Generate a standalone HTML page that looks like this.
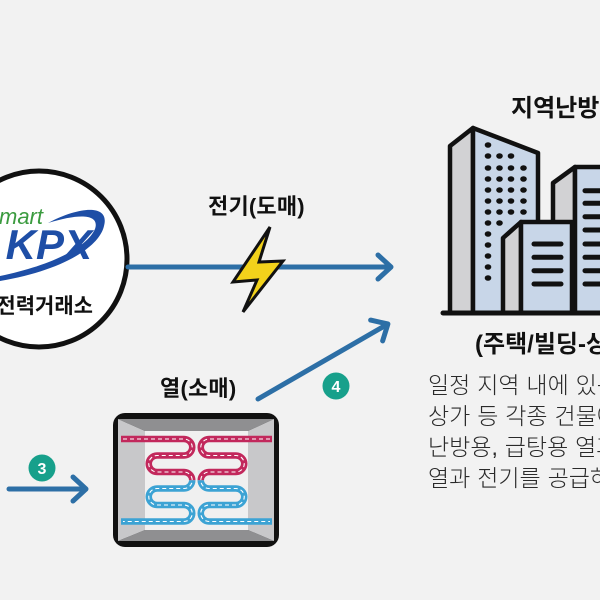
<!DOCTYPE html>
<html><head><meta charset="utf-8"><style>
html,body{margin:0;padding:0;background:#f2f2f2;}
svg{display:block;}
.ko{font-family:"Liberation Sans","Noto Sans CJK KR",sans-serif;}
</style></head><body>
<svg width="600" height="600" viewBox="0 0 600 600" xmlns="http://www.w3.org/2000/svg">
<rect width="600" height="600" fill="#f2f2f2"/>

<!-- KPX circle -->
<circle cx="39" cy="259" r="88" fill="#ffffff" stroke="#111" stroke-width="5"/>
<path d="M48,223 C80,206 110,204 104,226 C99,248 60,271 0,281 L0,276 C48,266 86,249 95,229 C100,214 80,213 48,223 Z" fill="#1e4ea6"/>
<text x="43" y="224" text-anchor="end" font-family="Liberation Sans,sans-serif" font-style="italic" font-size="22" fill="#3b9b3f">smart</text>
<text x="92" y="259" text-anchor="end" font-family="Liberation Sans,sans-serif" font-style="italic" font-weight="bold" font-size="42" fill="#1e4ea6">KPX</text>
<text class="ko" x="93" y="313" text-anchor="end" font-size="21" font-weight="bold" fill="#111">전력거래소</text>

<!-- horizontal arrow -->
<g stroke="#2d6fa6" stroke-width="5" stroke-linecap="round" stroke-linejoin="round" fill="none">
<line x1="128" y1="267" x2="390" y2="267"/>
<polyline points="378,255 391,267 378,279"/>
</g>
<text class="ko" x="208" y="214" font-size="22" font-weight="bold" letter-spacing="0.2" fill="#111">전기(도매)</text>

<!-- lightning -->
<polygon points="270,227 233,282 257,280 243,312 283,261 259,262" fill="#f2d21b" stroke="#111" stroke-width="3" stroke-linejoin="miter"/>

<!-- diagonal arrow -->
<g transform="translate(258,399) rotate(-30)" stroke="#2d6fa6" stroke-width="5" stroke-linecap="round" stroke-linejoin="round" fill="none">
<line x1="0" y1="0" x2="149" y2="0"/>
<polyline points="137,-12 150,0 137,12"/>
</g>
<circle cx="336" cy="386" r="13.5" fill="#17a08b"/>
<text x="336" y="392" text-anchor="middle" font-family="Liberation Sans,sans-serif" font-weight="bold" font-size="16" fill="#fff">4</text>

<!-- arrow 3 -->
<g stroke="#2d6fa6" stroke-width="5" stroke-linecap="round" stroke-linejoin="round" fill="none">
<line x1="9" y1="489" x2="85" y2="489"/>
<polyline points="73,477 86,489 73,501"/>
</g>
<circle cx="42" cy="468" r="13.5" fill="#17a08b"/>
<text x="42" y="474" text-anchor="middle" font-family="Liberation Sans,sans-serif" font-weight="bold" font-size="16" fill="#fff">3</text>

<text class="ko" x="160" y="396" font-size="22" font-weight="bold" letter-spacing="0.2" fill="#111">열(소매)</text>

<!-- heat exchanger -->
<rect x="113" y="413" width="166" height="134" rx="12" fill="#111"/>
<polygon points="118,419 274,419 248,431 145,431" fill="#8f8f91"/>
<polygon points="118,541 274,541 248,530 145,530" fill="#8f8f91"/>
<polygon points="118,419 145,431 145,530 118,541" fill="#c8c8ca"/>
<polygon points="274,419 248,431 248,530 274,541" fill="#c8c8ca"/>
<rect x="145" y="431" width="103" height="99" fill="#f0f0f0"/>
<g fill="none" stroke-width="6.5">
<path d="M121,439 H184 A8.25,8.25 0 0 1 184,455.5 H157 A8.25,8.25 0 0 0 157,472 H184 A8.25,8.25 0 0 1 192.25,480.25" stroke="#c2285c"/>
<path d="M192.25,480.25 A8.25,8.25 0 0 1 184,488.5 H157 A8.25,8.25 0 0 0 157,505 H184 A8.25,8.25 0 0 1 184,521.5 H121" stroke="#3ca3d4"/>
<path d="M272,439 H209 A8.25,8.25 0 0 0 209,455.5 H236 A8.25,8.25 0 0 1 236,472 H209 A8.25,8.25 0 0 0 200.75,480.25" stroke="#c2285c"/>
<path d="M200.75,480.25 A8.25,8.25 0 0 0 209,488.5 H236 A8.25,8.25 0 0 1 236,505 H209 A8.25,8.25 0 0 0 209,521.5 H272" stroke="#3ca3d4"/>
</g>
<g fill="none" stroke="#fff" stroke-width="1.1" stroke-dasharray="4 3">
<path d="M123,439 H184 A8.25,8.25 0 0 1 184,455.5 H157 A8.25,8.25 0 0 0 157,472 H184 A8.25,8.25 0 0 1 184,488.5 H157 A8.25,8.25 0 0 0 157,505 H184 A8.25,8.25 0 0 1 184,521.5 H123"/>
<path d="M270,439 H209 A8.25,8.25 0 0 0 209,455.5 H236 A8.25,8.25 0 0 1 236,472 H209 A8.25,8.25 0 0 0 209,488.5 H236 A8.25,8.25 0 0 1 236,505 H209 A8.25,8.25 0 0 0 209,521.5 H270"/>
</g>

<!-- buildings -->
<g stroke="#111" stroke-width="4.5" stroke-linejoin="round">
<polygon points="450,146 473,128 473,313 450,313" fill="#d2d2d4"/>
<polygon points="473,128 538,153 538,313 473,313" fill="#c8d6e8"/>
<polygon points="553,183 575,167 575,313 553,313" fill="#d2d2d4"/>
<polygon points="575,167 612,167 612,313 575,313" fill="#c8d6e8"/>
<polygon points="503,238 521,222 521,313 503,313" fill="#d2d2d4"/>
<polygon points="521,222 572,222 572,313 521,313" fill="#c8d6e8"/>
</g>
<g fill="#111">
<ellipse cx="488" cy="145" rx="3.3" ry="2.8"/>
<ellipse cx="488" cy="156" rx="3.3" ry="2.8"/><ellipse cx="499.5" cy="156" rx="3.3" ry="2.8"/><ellipse cx="511" cy="156" rx="3.3" ry="2.8"/>
<ellipse cx="488" cy="168" rx="3.3" ry="2.8"/><ellipse cx="499.5" cy="168" rx="3.3" ry="2.8"/><ellipse cx="511" cy="168" rx="3.3" ry="2.8"/><ellipse cx="523.5" cy="168" rx="3.3" ry="2.8"/>
<ellipse cx="488" cy="179" rx="3.3" ry="2.8"/><ellipse cx="499.5" cy="179" rx="3.3" ry="2.8"/><ellipse cx="511" cy="179" rx="3.3" ry="2.8"/><ellipse cx="523.5" cy="179" rx="3.3" ry="2.8"/>
<ellipse cx="488" cy="190" rx="3.3" ry="2.8"/><ellipse cx="499.5" cy="190" rx="3.3" ry="2.8"/><ellipse cx="511" cy="190" rx="3.3" ry="2.8"/><ellipse cx="523.5" cy="190" rx="3.3" ry="2.8"/>
<ellipse cx="488" cy="201" rx="3.3" ry="2.8"/><ellipse cx="499.5" cy="201" rx="3.3" ry="2.8"/><ellipse cx="511" cy="201" rx="3.3" ry="2.8"/><ellipse cx="523.5" cy="201" rx="3.3" ry="2.8"/>
<ellipse cx="488" cy="212" rx="3.3" ry="2.8"/><ellipse cx="499.5" cy="212" rx="3.3" ry="2.8"/><ellipse cx="511" cy="212" rx="3.3" ry="2.8"/><ellipse cx="523.5" cy="212" rx="3.3" ry="2.8"/>
<ellipse cx="488" cy="223" rx="3.3" ry="2.8"/><ellipse cx="499.5" cy="223" rx="3.3" ry="2.8"/>
<ellipse cx="488" cy="234" rx="3.3" ry="2.8"/>
<ellipse cx="488" cy="245" rx="3.3" ry="2.8"/>
<ellipse cx="488" cy="256" rx="3.3" ry="2.8"/>
<ellipse cx="488" cy="267" rx="3.3" ry="2.8"/>
<ellipse cx="488" cy="278" rx="3.3" ry="2.8"/>
</g>
<g stroke="#111" stroke-width="5" stroke-linecap="round">
<line x1="534" y1="244" x2="561" y2="244"/>
<line x1="534" y1="257.3" x2="561" y2="257.3"/>
<line x1="534" y1="270.7" x2="561" y2="270.7"/>
<line x1="534" y1="284" x2="561" y2="284"/>
<line x1="585" y1="190.7" x2="612" y2="190.7"/>
<line x1="585" y1="203.3" x2="612" y2="203.3"/>
<line x1="585" y1="216.7" x2="612" y2="216.7"/>
<line x1="585" y1="230" x2="612" y2="230"/>
<line x1="585" y1="244" x2="612" y2="244"/>
<line x1="585" y1="257.3" x2="612" y2="257.3"/>
<line x1="585" y1="270.7" x2="612" y2="270.7"/>
<line x1="585" y1="284" x2="612" y2="284"/>
<line x1="443" y1="313" x2="605" y2="313"/>
</g>

<text class="ko" x="511" y="116" font-size="24" font-weight="bold" fill="#111">지역난방공사</text>
<text class="ko" x="475" y="352" font-size="24" font-weight="bold" fill="#111">(주택/빌딩-상가)</text>
<g class="ko" font-size="23" font-weight="300" word-spacing="0.5" fill="#2a2a2a">
<text x="428" y="393">일정 지역 내에 있는</text>
<text x="428" y="424">상가 등 각종 건물에</text>
<text x="428" y="455">난방용, 급탕용 열과</text>
<text x="428" y="486">열과 전기를 공급하는</text>
</g>
</svg>
</body></html>
